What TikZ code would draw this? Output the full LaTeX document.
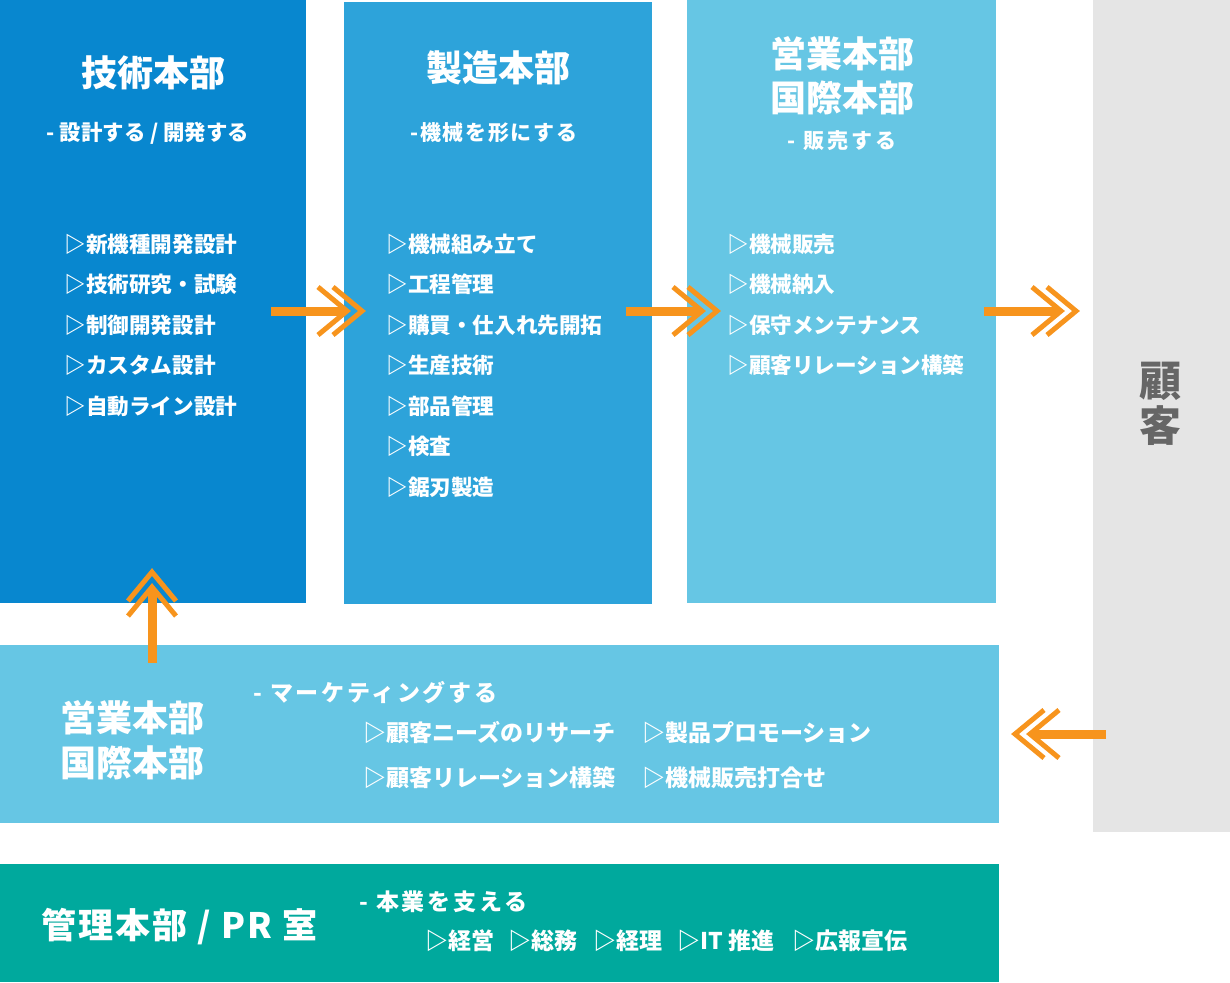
\documentclass[tikz,border=0pt]{standalone}
\usepackage{fontspec}
\setmainfont{Noto Sans CJK JP}
\definecolor{cA}{RGB}{8,135,207}
\definecolor{cB}{RGB}{45,163,218}
\definecolor{cC}{RGB}{102,198,228}
\definecolor{cT}{RGB}{0,169,157}
\definecolor{cG}{RGB}{229,229,229}
\definecolor{cO}{RGB}{247,148,29}
\definecolor{cTx}{RGB}{102,102,102}
\tikzset{
  panel/.style={inner sep=0pt, outer sep=0pt, anchor=north west, draw=none},
  ttl/.style={text=white, inner sep=0pt, anchor=base, font=\fontsize{18}{22}\selectfont\bfseries},
  subt/.style={text=white, inner sep=0pt, anchor=base, font=\fontsize{10.5}{12}\selectfont\bfseries},
  itm/.style={text=white, inner sep=0pt, anchor=base west, font=\fontsize{10.8}{13}\selectfont\bfseries},
  mitm/.style={text=white, inner sep=0pt, anchor=base west, font=\fontsize{11.5}{14}\selectfont\bfseries},
  shaft/.style={draw=cO, line width=4.5pt},
  chev/.style={draw=cO, line width=2.5pt, line join=miter},
}
\begin{document}
\begin{tikzpicture}[x=0.5pt,y=-0.5pt]
\useasboundingbox (0,0) rectangle (1230,982);
% panels
\node[panel, fill=cA, minimum width=153pt, minimum height=301.5pt] (tech) at (0,0) {};
\node[panel, fill=cB, minimum width=154pt, minimum height=301pt] (mfg) at (344,2) {};
\node[panel, fill=cC, minimum width=154.5pt, minimum height=301.5pt] (sales) at (687,0) {};
\node[panel, fill=cG, minimum width=68.5pt, minimum height=416pt] (cust) at (1093,0) {};
\node[panel, fill=cC, minimum width=499.5pt, minimum height=89pt] (mkt) at (0,645) {};
\node[panel, fill=cT, minimum width=499.5pt, minimum height=59pt] (adm) at (0,864) {};

% tech
\node[ttl] (t1) at (153,86) {技術本部};
\node[subt, font=\fontsize{10.7}{12}\selectfont\bfseries] (t2) at (148,140) {- 設計する / 開発する};
\foreach \t [count=\i] in {新機種開発設計,技術研究・試験,制御開発設計,カスタム設計,自動ライン設計}
  \node[itm] (ti\i) at (64,{252+(\i-1)*40.5}) {▷\t};

% mfg
\node[ttl] (m1) at (498,81) {製造本部};
\node[subt, font=\fontsize{10.5}{12}\selectfont\bfseries\addfontfeatures{LetterSpace=8}] (m2) at (494,140) {-機械を形にする};
\foreach \t [count=\i] in {機械組み立て,工程管理,購買・仕入れ先開拓,生産技術,部品管理,検査,鋸刃製造}
  \node[itm] (mi\i) at (386,{252+(\i-1)*40.5}) {▷\t};

% sales
\node[ttl] (s1) at (842,67) {営業本部};
\node[ttl] (s1b) at (842,111) {国際本部};
\node[subt, font=\fontsize{10.5}{12}\selectfont\bfseries\addfontfeatures{LetterSpace=15}] (s2) at (842,148) {- 販売する};
\foreach \t [count=\i] in {機械販売,機械納入,保守メンテナンス,顧客リレーション構築}
  \node[itm] (si\i) at (727,{252+(\i-1)*40.5}) {▷\t};

% customer
\node[inner sep=0pt, anchor=base, text=cTx, font=\fontsize{21}{25}\selectfont\bfseries] (c1) at (1160,396) {顧};
\node[inner sep=0pt, anchor=base, text=cTx, font=\fontsize{21}{25}\selectfont\bfseries] (c2) at (1160,441) {客};

% marketing
\node[ttl, anchor=base west] (k1) at (60,731) {営業本部};
\node[ttl, anchor=base west] (k1b) at (60,776) {国際本部};
\node[mitm, font=\fontsize{11.5}{14}\selectfont\bfseries\addfontfeatures{LetterSpace=12}] (k2) at (253,701) {- マーケティングする};
\node[mitm] (k3) at (363,741) {▷顧客ニーズのリサーチ};
\node[mitm] (k4) at (642,741) {▷製品プロモーション};
\node[mitm] (k5) at (363,786) {▷顧客リレーション構築};
\node[mitm] (k6) at (642,786) {▷機械販売打合せ};

% admin
\node[ttl, anchor=base west, font=\fontsize{17.5}{20}\selectfont\bfseries\addfontfeatures{LetterSpace=6}] (a1) at (41,938) {管理本部 / PR 室};
\node[mitm, font=\fontsize{11.5}{14}\selectfont\bfseries\addfontfeatures{LetterSpace=12}] (a2) at (359,910) {- 本業を支える};
\node[mitm] (a3) at (425,949) {▷経営};
\node[mitm] (a4) at (508,949) {▷総務};
\node[mitm] (a5) at (593,949) {▷経理};
\node[mitm] (a6) at (677,949) {▷IT 推進};
\node[mitm] (a7) at (792,949) {▷広報宣伝};

% arrow coordinates
\coordinate (r1s) at (271,311); \coordinate (r1t) at (362,311);
\coordinate (r2s) at (626,311); \coordinate (r2t) at (717,311);
\coordinate (r3s) at (984,311); \coordinate (r3t) at (1076,311);
\coordinate (ups) at (152,663); \coordinate (upt) at (152,572);
\coordinate (lfs) at (1106,734); \coordinate (lft) at (1015,734);

% rightward arrows
\foreach \n in {r1,r2,r3}{
  \draw[shaft] (\n s) -- ([xshift=-9pt]\n t);
  \draw[chev] ([shift={(-44,-24)}]\n t) -- ([shift={(-15,0)}]\n t) -- ([shift={(-44,24)}]\n t);
  \draw[chev] ([shift={(-29,-24)}]\n t) -- (\n t) -- ([shift={(-29,24)}]\n t);
}
% upward arrow
\draw[shaft] (ups) -- ([yshift=-9pt]upt);
\draw[chev] ([shift={(-24,44)}]upt) -- ([shift={(0,15)}]upt) -- ([shift={(24,44)}]upt);
\draw[chev] ([shift={(-24,29)}]upt) -- (upt) -- ([shift={(24,29)}]upt);
% leftward arrow
\draw[shaft] (lfs) -- ([xshift=9pt]lft);
\draw[chev] ([shift={(44,-24)}]lft) -- ([shift={(15,0)}]lft) -- ([shift={(44,24)}]lft);
\draw[chev] ([shift={(29,-24)}]lft) -- (lft) -- ([shift={(29,24)}]lft);
\end{tikzpicture}
\end{document}
